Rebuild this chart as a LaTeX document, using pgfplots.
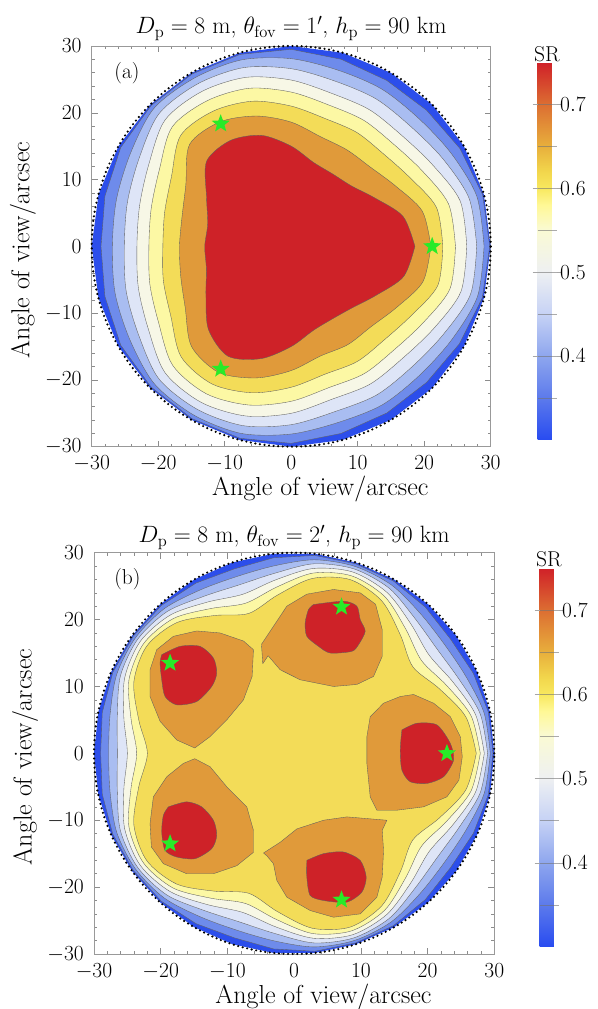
\documentclass[border=0pt]{standalone}
\usepackage{fix-cm}
\usepackage{pgfplots}
\pgfplotsset{compat=1.18}

\definecolor{c30}{RGB}{44,78,235}
\definecolor{c35}{RGB}{110,139,235}
\definecolor{c40}{RGB}{169,189,241}
\definecolor{c45}{RGB}{222,229,247}
\definecolor{c50}{RGB}{247,247,230}
\definecolor{c55}{RGB}{252,248,164}
\definecolor{c60}{RGB}{243,220,88}
\definecolor{c65}{RGB}{224,154,58}
\definecolor{c70}{RGB}{206,34,40}
\definecolor{lc}{RGB}{95,95,95}
\definecolor{starg}{RGB}{40,235,40}

\newcommand{\tkf}{\fontsize{21.5}{25}\selectfont}
\newcommand{\lbf}{\fontsize{26}{30}\selectfont}
\newcommand{\ttlf}{\fontsize{23.6}{28}\selectfont}

\tikzset{dotc/.style={black, line width=2.4pt, line cap=round, dash pattern=on 0pt off 4.6pt}}

\pgfdeclareplotmark{fstar}{%
  \pgfpathmoveto{\pgfpointpolar{90}{\pgfplotmarksize}}%
  \pgfpathlineto{\pgfpointpolar{126}{0.42\pgfplotmarksize}}%
  \pgfpathlineto{\pgfpointpolar{162}{\pgfplotmarksize}}%
  \pgfpathlineto{\pgfpointpolar{198}{0.42\pgfplotmarksize}}%
  \pgfpathlineto{\pgfpointpolar{234}{\pgfplotmarksize}}%
  \pgfpathlineto{\pgfpointpolar{270}{0.42\pgfplotmarksize}}%
  \pgfpathlineto{\pgfpointpolar{306}{\pgfplotmarksize}}%
  \pgfpathlineto{\pgfpointpolar{342}{0.42\pgfplotmarksize}}%
  \pgfpathlineto{\pgfpointpolar{18}{\pgfplotmarksize}}%
  \pgfpathlineto{\pgfpointpolar{54}{0.42\pgfplotmarksize}}%
  \pgfpathclose
  \pgfusepathqfill}

\pgfplotsset{
  panel/.style={
    scale only axis, clip=false,
    xmin=-30, xmax=30, ymin=-30, ymax=30,
    xtick={-30,-20,...,30}, ytick={-30,-20,...,30},
    minor tick num=4,
    tick align=inside,
    major tick length=6pt, minor tick length=3pt,
    tick style={black!45, line width=0.5pt},
    axis line style={black!40, line width=0.6pt},
    ticklabel style={font=\tkf, inner sep=0.5pt},
    xticklabel style={yshift=-8.5pt},
    yticklabel style={xshift=-9.5pt},
    xlabel={Angle of view/arcsec}, ylabel={Angle of view/arcsec},
    every axis x label/.style={at={(0.573,0)}, anchor=base, yshift=-49pt, font=\lbf},
    every axis y label/.style={at={(0,0.491)}, xshift=-62.4pt, rotate=90, anchor=base, font=\lbf},
    point meta min=0.3, point meta max=0.75,
    colormap={sr}{rgb255(30pt)=(40,75,240) rgb255(35pt)=(92,122,236) rgb255(40pt)=(142,166,238)
      rgb255(45pt)=(198,210,245) rgb255(50pt)=(238,240,242) rgb255(55pt)=(250,250,212)
      rgb255(58pt)=(255,248,150) rgb255(60pt)=(248,232,95) rgb255(62pt)=(242,214,76)
      rgb255(65pt)=(232,175,60) rgb255(70pt)=(220,110,50) rgb255(75pt)=(208,32,40)},
    colorbar,
    colorbar style={
      anchor=north west,
      width=19pt, scale only axis,
      ytick={0.4,0.5,0.6,0.7},
      extra y ticks={0.35,0.45,0.55,0.65},
      extra y tick labels={},
      extra y tick style={grid=major, major tick length=0pt},
      ymajorgrids=true,
      major grid style={black!55, line width=0.5pt, opacity=0.6},
      major tick length=5pt, tick align=outside,
      tick style={black!35},
      yticklabel style={font=\tkf, xshift=-2pt, /pgf/number format/.cd, fixed, fixed zerofill, precision=1},
      axis line style={draw=none},
      title={SR},
      every axis title/.style={at={(0.5,1)}, anchor=base, yshift=1pt, font=\tkf},
    },
  },
  band/.style={fill=#1, draw=lc, line width=0.35pt, line join=round},
}

\begin{document}
\begin{tikzpicture}
\useasboundingbox (0,0) rectangle (597pt,1009pt);

% ---------------- panel (a) ----------------
\begin{axis}[panel,
  at={(91.7pt,562.3pt)}, anchor=south west,
  width=399pt, height=400.7pt,
  title={$D_{\mathrm{p}}=8$ m, $\theta_{\mathrm{fov}}=1'$, $h_{\mathrm{p}}=90$ km},
  every axis title/.style={at={(0.5,1)}, anchor=base, yshift=12pt, font=\ttlf},
  colorbar style={at={(529pt,946.7pt)}, height=377.7pt},
]
\addplot[data cs=polar, fill=c30, draw=none] coordinates {
(0,30) (15,30) (30,30) (45,30) (60,30) (75,30) (90,30) (105,30) (120,30) (135,30) (150,30) (165,30)
(180,30) (195,30) (210,30) (225,30) (240,30) (255,30) (270,30) (285,30) (300,30) (315,30) (330,30) (345,30) (360,30)};
\addplot[data cs=polar, band=c35] coordinates {
(0,29.85) (15,29.8) (30,29.3) (45,28.8) (60,28.7) (75,29.0) (90,29.5) (105,29.75) (120,29.8) (135,29.8) (150,29.6) (165,29.0)
(180,28.6) (195,29.0) (210,29.6) (225,29.8) (240,29.8) (255,29.75) (270,29.5) (285,29.0) (300,28.8) (315,28.8) (330,29.2) (345,29.75) (360,29.85)} -- cycle;
\addplot[data cs=polar, smooth, tension=0.5, band=c40] coordinates {
(0,29.0) (15,28.9) (30,27.8) (45,27.1) (60,27.2) (75,27.3) (90,28.1) (105,28.9) (120,29.1) (135,29.2) (150,27.9) (165,27.2)
(180,26.9) (195,27.4) (210,28.0) (225,29.1) (240,29.2) (255,29.0) (270,28.1) (285,27.3) (300,27.4) (315,27.3) (330,27.9) (345,29.0) (360,29.0)};
\addplot[data cs=polar, smooth, tension=0.5, band=c45] coordinates {
(0,27.9) (15,27.7) (30,26.3) (45,25.4) (60,25.5) (75,25.6) (90,26.6) (105,27.7) (120,28.1) (135,28.1) (150,26.4) (165,25.5)
(180,25.1) (195,25.7) (210,26.5) (225,28.1) (240,28.2) (255,27.8) (270,26.7) (285,25.6) (300,25.7) (315,25.6) (330,26.4) (345,27.9) (360,27.9)};
\addplot[data cs=polar, smooth, tension=0.5, band=c50] coordinates {
(0,26.4) (15,26.3) (30,24.5) (45,23.5) (60,23.6) (75,23.7) (90,24.9) (105,26.2) (120,26.8) (135,26.8) (150,24.7) (165,23.6)
(180,23.2) (195,23.8) (210,24.8) (225,26.8) (240,27.0) (255,26.3) (270,25.0) (285,23.7) (300,23.8) (315,23.7) (330,24.7) (345,26.4) (360,26.4)};
\addplot[data cs=polar, smooth, tension=0.5, band=c55] coordinates {
(0,24.7) (15,24.5) (30,22.7) (45,21.7) (60,21.8) (75,21.9) (90,23.1) (105,24.5) (120,25.2) (135,25.3) (150,22.9) (165,21.8)
(180,21.4) (195,22.0) (210,23.0) (225,25.2) (240,25.5) (255,24.6) (270,23.2) (285,21.9) (300,22.0) (315,21.9) (330,22.9) (345,24.7) (360,24.7)};
\addplot[data cs=polar, smooth, tension=0.5, band=c60] coordinates {
(0,22.8) (15,22.6) (30,20.6) (45,19.6) (60,19.7) (75,19.8) (90,21.0) (105,22.5) (120,23.4) (135,23.5) (150,20.8) (165,19.7)
(180,19.3) (195,19.9) (210,20.9) (225,23.4) (240,23.8) (255,22.7) (270,21.1) (285,19.8) (300,19.9) (315,19.8) (330,20.8) (345,22.8) (360,22.8)};
\addplot[data cs=polar, smooth, tension=0.5, band=c65] coordinates {
(0,21.0) (15,20.4) (30,18.1) (45,16.8) (60,16.7) (75,17.0) (90,18.6) (105,20.2) (120,21.5) (135,21.6) (150,18.3) (165,17.0)
(180,16.8) (195,17.2) (210,18.4) (225,21.2) (240,21.8) (255,20.4) (270,18.6) (285,17.0) (300,17.0) (315,17.0) (330,18.3) (345,20.5) (360,21.0)};
\addplot[data cs=polar, smooth, tension=0.5, band=c70] coordinates {
(0,18.6) (15,17.4) (30,14.5) (45,12.8) (60,12.5) (75,13.0) (90,15.0) (105,17.2) (120,18.3) (135,18.0) (150,14.7) (165,13.0)
(180,13.0) (195,13.2) (210,14.8) (225,17.6) (240,19.0) (255,17.4) (270,15.0) (285,13.0) (300,12.5) (315,13.0) (330,14.7) (345,17.5) (360,18.6)};
\draw[dotc] (axis cs:0,0) circle[radius=30];
\addplot[only marks, mark=fstar, mark size=9.5pt, color=starg] coordinates {(21.2,0) (-10.6,18.36) (-10.6,-18.36)};
\node[font=\tkf] at (axis cs:-24.7,25.9) {(a)};
\end{axis}

% ---------------- panel (b) ----------------
\begin{axis}[panel,
  at={(94pt,55pt)}, anchor=south west,
  width=400.3pt, height=401.3pt,
  title={$D_{\mathrm{p}}=8$ m, $\theta_{\mathrm{fov}}=2'$, $h_{\mathrm{p}}=90$ km},
  every axis title/.style={at={(0.5,1)}, anchor=base, yshift=10pt, font=\ttlf},
  colorbar style={at={(531pt,441pt)}, height=379pt},
]
\addplot[data cs=polar, fill=c30, draw=none] coordinates {
(0,30) (12,30) (24,30) (36,30) (48,30) (60,30) (72,30) (84,30) (96,30) (108,30) (120,30) (132,30) (144,30) (156,30) (168,30)
(180,30) (192,30) (204,30) (216,30) (228,30) (240,30) (252,30) (264,30) (276,30) (288,30) (300,30) (312,30) (324,30) (336,30) (348,30) (360,30)};
\addplot[data cs=polar, band=c35] coordinates {
(0,29.8) (12,29.75) (24,29.4) (36,29.0) (48,29.4) (60,29.75) (72,29.8) (84,29.75) (96,29.4) (108,29.0) (120,29.4) (132,29.75) (144,29.8) (156,29.75) (168,29.4)
(180,29.0) (192,29.4) (204,29.75) (216,29.8) (228,29.75) (240,29.4) (252,29.0) (264,29.4) (276,29.75) (288,29.8) (300,29.75) (312,29.4) (324,29.0) (336,29.4) (348,29.75) (360,29.8)} -- cycle;
\addplot[data cs=polar, smooth, tension=0.5, band=c40] coordinates {
(0,29.4) (12,29.1) (24,28.2) (36,27.8) (48,28.2) (60,29.1) (72,29.4) (84,29.1) (96,28.2) (108,27.8) (120,28.2) (132,29.1) (144,29.4) (156,29.1) (168,28.2)
(180,27.8) (192,28.2) (204,29.1) (216,29.4) (228,29.1) (240,28.2) (252,27.8) (264,28.2) (276,29.1) (288,29.4) (300,29.1) (312,28.2) (324,27.8) (336,28.2) (348,29.1) (360,29.4)};
\addplot[data cs=polar, smooth, tension=0.5, band=c45] coordinates {
(0,29.0) (12,28.5) (24,27.1) (36,26.5) (48,27.1) (60,28.5) (72,29.0) (84,28.5) (96,27.1) (108,26.5) (120,27.1) (132,28.5) (144,29.0) (156,28.5) (168,27.1)
(180,26.5) (192,27.1) (204,28.5) (216,29.0) (228,28.5) (240,27.1) (252,26.5) (264,27.1) (276,28.5) (288,29.0) (300,28.5) (312,27.1) (324,26.5) (336,27.1) (348,28.5) (360,29.0)};
\addplot[data cs=polar, smooth, tension=0.5, band=c50] coordinates {
(0,28.5) (12,27.8) (24,26.1) (36,25.0) (48,26.1) (60,27.8) (72,28.5) (84,27.8) (96,26.1) (108,25.0) (120,26.1) (132,27.8) (144,28.5) (156,27.8) (168,26.1)
(180,25.0) (192,26.1) (204,27.8) (216,28.5) (228,27.8) (240,26.1) (252,25.0) (264,26.1) (276,27.8) (288,28.5) (300,27.8) (312,26.1) (324,25.0) (336,26.1) (348,27.8) (360,28.5)};
\addplot[data cs=polar, smooth, tension=0.5, band=c55] coordinates {
(0,27.9) (12,27.1) (24,25.0) (36,23.6) (48,25.0) (60,27.1) (72,27.9) (84,27.1) (96,25.0) (108,23.6) (120,25.0) (132,27.1) (144,27.9) (156,27.1) (168,25.0)
(180,23.6) (192,25.0) (204,27.1) (216,27.9) (228,27.1) (240,25.0) (252,23.6) (264,25.0) (276,27.1) (288,27.9) (300,27.1) (312,25.0) (324,23.6) (336,25.0) (348,27.1) (360,27.9)};
\addplot[data cs=polar, smooth, tension=0.5, band=c60] coordinates {
(0,27.3) (12,26.3) (24,23.8) (36,22.0) (48,23.8) (60,26.3) (72,27.3) (84,26.3) (96,23.8) (108,22.0) (120,23.8) (132,26.3) (144,27.3) (156,26.3) (168,23.8)
(180,22.0) (192,23.8) (204,26.3) (216,27.3) (228,26.3) (240,23.8) (252,22.0) (264,23.8) (276,26.3) (288,27.3) (300,26.3) (312,23.8) (324,22.0) (336,23.8) (348,26.3) (360,27.3)};
% orange islands
\addplot[band=c65] coordinates {(-4.9,16.3) (-3.1,19.0) (-1.1,22.0) (1.9,23.8) (5.9,24.5) (9.9,24.0) (12.2,22.3) (13.2,18.5) (13.2,14.5) (11.9,11.5) (9.4,10.3) (5.9,10.0) (0.9,11.0) (-2.1,12.5) (-3.9,14.6) (-4.7,13.4) (-4.9,16.3)} -- cycle;
\addplot[band=c65] coordinates {(-21.6,12.5) (-20.6,15.5) (-18.1,17.5) (-14.6,18.3) (-11.1,18.0) (-7.6,16.8) (-6.1,15.5) (-6.3,11.5) (-7.6,8.0) (-10.1,5.0) (-12.6,2.5) (-14.9,0.8) (-17.6,2.0) (-20.1,4.8) (-21.6,8.5) (-21.6,12.5)} -- cycle;
\addplot[band=c65] coordinates {(11.4,5.5) (13.4,7.5) (15.9,8.5) (17.9,8.8) (20.9,7.5) (23.4,5.5) (24.9,2.5) (25.2,-0.5) (24.7,-4.0) (22.9,-6.5) (19.4,-8.0) (15.4,-8.5) (12.4,-8.5) (11.4,-6.5) (10.9,-1.5) (10.9,2.5) (11.4,5.5)} -- cycle;
\addplot[band=c65] coordinates {(-14.9,-0.8) (-12.6,-2.0) (-10.1,-5.0) (-7.1,-8.0) (-6.1,-11.5) (-6.1,-14.8) (-8.6,-16.8) (-12.1,-18.0) (-16.1,-18.0) (-19.6,-16.5) (-21.4,-14.0) (-21.6,-10.5) (-21.1,-6.5) (-19.1,-3.5) (-16.6,-1.5) (-14.9,-0.8)} -- cycle;
\addplot[band=c65] coordinates {(-4.6,-14.9) (-2.1,-13.3) (0.4,-11.3) (4.4,-10.0) (7.9,-9.5) (13.9,-10.0) (13.2,-11.5) (13.4,-14.5) (13.2,-18.5) (12.4,-21.5) (9.9,-24.0) (5.9,-24.5) (2.4,-23.5) (-1.1,-21.5) (-2.6,-19.0) (-3.1,-16.5) (-4.1,-15.3) (-4.6,-14.9)} -- cycle;
% red cores
\addplot[smooth, tension=0.45, band=c70] coordinates {(2.9,22.25) (7.4,22.75) (9.4,22.0) (9.9,20.0) (10.65,18.25) (9.65,16.25) (8.65,15.25) (5.4,15.0) (3.65,16.0) (1.9,17.5) (1.65,19.5) (2.15,21.5) (2.9,22.25)};
\addplot[smooth, tension=0.45, band=c70] coordinates {(-19.85,14.75) (-17.1,16.0) (-14.1,16.0) (-12.1,14.25) (-11.6,12.0) (-12.35,10.0) (-14.6,7.75) (-17.6,7.25) (-19.35,8.5) (-19.85,11.0) (-20.1,13.5) (-19.85,14.75)};
\addplot[smooth, tension=0.45, band=c70] coordinates {(16.15,3.5) (18.4,4.5) (21.4,4.25) (23.4,1.5) (23.9,-1.0) (22.4,-3.5) (19.9,-4.5) (17.4,-4.25) (16.15,-2.5) (15.9,0.5) (16.15,3.5)};
\addplot[smooth, tension=0.45, band=c70] coordinates {(-18.85,-8.0) (-16.1,-7.25) (-13.85,-8.0) (-12.1,-10.0) (-11.6,-12.25) (-12.35,-14.25) (-14.85,-15.75) (-17.6,-15.5) (-19.35,-14.5) (-19.85,-11.75) (-19.6,-9.25) (-18.85,-8.0)};
\addplot[smooth, tension=0.45, band=c70] coordinates {(1.9,-16.0) (4.4,-15.0) (7.4,-14.75) (9.9,-16.0) (10.8,-18.5) (10.15,-20.75) (7.9,-22.25) (4.4,-22.0) (2.4,-21.25) (1.9,-18.5) (1.9,-16.0)};
\draw[dotc] (axis cs:0,0) circle[radius=30];
\addplot[only marks, mark=fstar, mark size=9.5pt, color=starg] coordinates {(22.9,0) (7.1,21.9) (-18.6,13.5) (-18.6,-13.5) (7.1,-21.9)};
\node[font=\tkf] at (axis cs:-25,26) {(b)};
\end{axis}
\end{tikzpicture}
\end{document}
